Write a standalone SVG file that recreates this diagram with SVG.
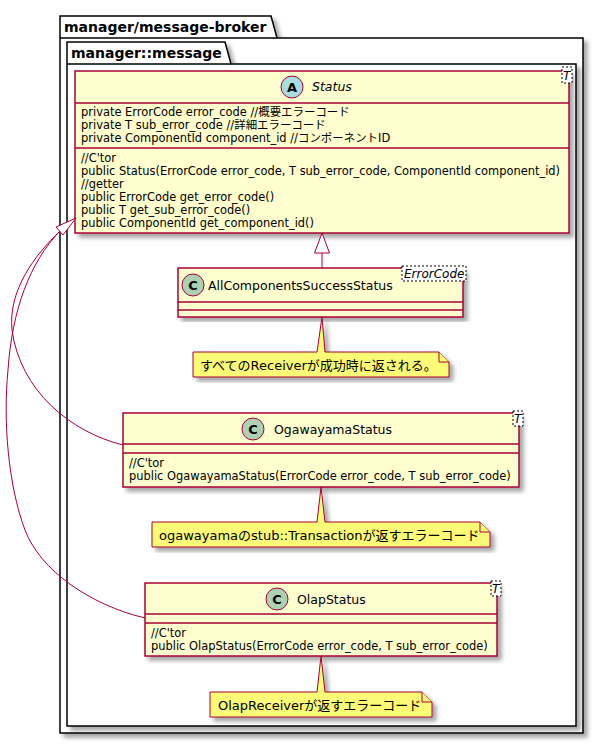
<svg xmlns="http://www.w3.org/2000/svg" width="604" height="745" viewBox="0 0 604 745">
<style>
text{font-family:"DejaVu Sans","Noto Sans CJK JP",sans-serif;fill:#000}
.pkg{fill:none;stroke:#000;stroke-width:1.5}
.pkgbg{fill:#fff;stroke:#000;stroke-width:1.5}
.ptitle{font-size:14px;font-weight:bold}
.cls{fill:#FEFECE;stroke:#A80036;stroke-width:1.5}
.sep{stroke:#A80036;stroke-width:1.5}
.mem{font-size:11.45px}
.name{font-size:12.5px}
.it{font-style:italic}
.tpl{fill:#fff;stroke:#000;stroke-width:1;stroke-dasharray:2,2}
.tt{font-size:12px;font-style:italic}
.note{fill:#FBFB77;stroke:#A80036;stroke-width:1}
.ntext{font-size:13px}
.edge{fill:none;stroke:#A80036;stroke-width:1}
.head{fill:#fff;stroke:#A80036;stroke-width:1}
.circA{fill:#A9DCDF;stroke:#A80036;stroke-width:1}
.circC{fill:#ADD1B2;stroke:#A80036;stroke-width:1}
.letter{font-size:13px;font-weight:bold;text-anchor:middle}
</style>
<defs>
<filter id="sh" x="-5%" y="-5%" width="115%" height="115%">
<feGaussianBlur in="SourceAlpha" stdDeviation="2"/>
<feOffset dx="4" dy="4" result="b"/>
<feFlood flood-color="#000" flood-opacity="0.35"/>
<feComposite in2="b" operator="in"/>
<feMerge><feMergeNode/><feMergeNode in="SourceGraphic"/></feMerge>
</filter>
</defs>
<rect width="604" height="745" fill="#fff"/>

<g id="pkg-broker">
<path class="pkgbg" filter="url(#sh)" d="M60,16 L271,16 L277,38 L583,38 L583,733 L60,733 Z"/>
<line class="pkg" x1="60" y1="38" x2="277" y2="38"/>
<text class="ptitle" x="64" y="32">manager/message-broker</text>
</g>
<g id="pkg-message">
<path class="pkgbg" filter="url(#sh)" d="M67,42 L225,42 L231,64 L576,64 L576,726 L67,726 Z"/>
<line class="pkg" x1="67" y1="64" x2="231" y2="64"/>
<text class="ptitle" x="71" y="58">manager::message</text>
</g>

<g id="Status">
<rect class="cls" filter="url(#sh)" x="75" y="71" width="494" height="162"/>
<line class="sep" x1="75" y1="103" x2="569" y2="103"/>
<line class="sep" x1="75" y1="148" x2="569" y2="148"/>
<circle class="circA" cx="292" cy="87" r="11"/>
<text class="letter" x="292" y="92">A</text>
<text class="name it" x="312" y="91">Status</text>
<rect class="tpl" x="562" y="67" width="10" height="16"/>
<text class="tt" x="563" y="80">T</text>
<text class="mem" x="81" y="116">private ErrorCode error_code //概要エラーコード</text>
<text class="mem" x="81" y="129">private T sub_error_code //詳細エラーコード</text>
<text class="mem" x="81" y="142">private ComponentId component_id //コンポーネントID</text>
<text class="mem" x="81" y="162">//C'tor</text>
<text class="mem" x="81" y="175">public Status(ErrorCode error_code, T sub_error_code, ComponentId component_id)</text>
<text class="mem" x="81" y="188">//getter</text>
<text class="mem" x="81" y="201">public ErrorCode get_error_code()</text>
<text class="mem" x="81" y="214">public T get_sub_error_code()</text>
<text class="mem" x="81" y="227">public ComponentId get_component_id()</text>
</g>

<g id="AllComponentsSuccessStatus">
<rect class="cls" filter="url(#sh)" x="178" y="268" width="285" height="49"/>
<line class="sep" x1="178" y1="302" x2="463" y2="302"/>
<line class="sep" x1="178" y1="310" x2="463" y2="310"/>
<circle class="circC" cx="193" cy="285" r="11"/>
<text class="letter" x="193" y="290">C</text>
<text class="name" x="208" y="290">AllComponentsSuccessStatus</text>
<rect class="tpl" x="402" y="266" width="64" height="15"/>
<text class="tt" x="404" y="278">ErrorCode</text>
</g>

<g id="OgawayamaStatus">
<rect class="cls" filter="url(#sh)" x="123" y="413" width="396" height="74"/>
<line class="sep" x1="123" y1="444" x2="519" y2="444"/>
<line class="sep" x1="123" y1="453" x2="519" y2="453"/>
<circle class="circC" cx="253" cy="429" r="11"/>
<text class="letter" x="253" y="434">C</text>
<text class="name" x="274" y="434">OgawayamaStatus</text>
<rect class="tpl" x="513" y="411" width="10" height="15"/>
<text class="tt" x="514" y="423">T</text>
<text class="mem" x="129" y="467">//C'tor</text>
<text class="mem" x="129" y="480">public OgawayamaStatus(ErrorCode error_code, T sub_error_code)</text>
</g>

<g id="OlapStatus">
<rect class="cls" filter="url(#sh)" x="145" y="583" width="352" height="73"/>
<line class="sep" x1="145" y1="614" x2="497" y2="614"/>
<line class="sep" x1="145" y1="623" x2="497" y2="623"/>
<circle class="circC" cx="277" cy="599" r="11"/>
<text class="letter" x="277" y="604">C</text>
<text class="name" x="297" y="604">OlapStatus</text>
<rect class="tpl" x="491" y="581" width="10" height="15"/>
<text class="tt" x="492" y="593">T</text>
<text class="mem" x="151" y="637">//C'tor</text>
<text class="mem" x="151" y="650">public OlapStatus(ErrorCode error_code, T sub_error_code)</text>
</g>

<g id="note1">
<path class="note" filter="url(#sh)" d="M193,352 L317,352 L322,317 L325,352 L439,352 L449,362 L449,377 L193,377 Z"/>
<path class="note" d="M439,352 L439,362 L449,362"/>
<text class="ntext" x="200" y="370">すべてのReceiverが成功時に返される。</text>
</g>
<g id="note2">
<path class="note" filter="url(#sh)" d="M152,522 L317,522 L321,487 L325,522 L480,522 L490,532 L490,547 L152,547 Z"/>
<path class="note" d="M480,522 L480,532 L490,532"/>
<text class="ntext" x="159" y="540">ogawayamaのstub::Transactionが返すエラーコード</text>
</g>
<g id="note3">
<path class="note" filter="url(#sh)" d="M210,692 L317,692 L321,656 L325,692 L422,692 L432,702 L432,717 L210,717 Z"/>
<path class="note" d="M422,692 L422,702 L432,702"/>
<text class="ntext" x="218" y="710">OlapReceiverが返すエラーコード</text>
</g>

<g id="connectors">
<line class="edge" x1="322" y1="268" x2="322" y2="253"/>
<polygon class="head" points="322,233 314.5,253 329.5,253"/>
<path class="edge" d="M123,445 C70,432 20,390 12,330 C8,290 35,255 60,231"/>
<path class="edge" d="M145,618 C90,605 40,570 25,530 C8,485 3,420 8,370 C12,310 30,262 60,231"/>
<polygon class="head" points="76,218 56,227 63,235"/>
</g>
</svg>
